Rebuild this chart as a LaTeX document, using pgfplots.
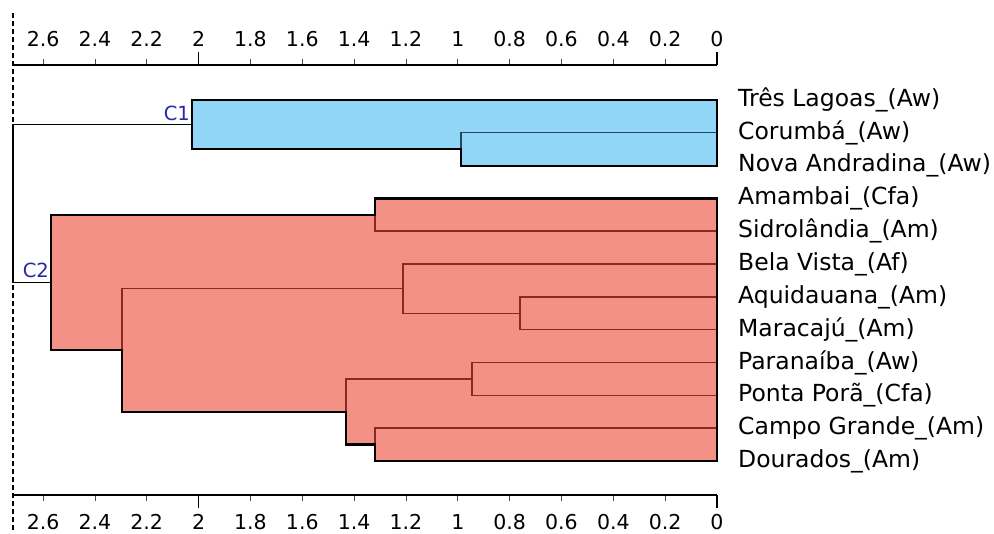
\documentclass[border=0pt]{standalone}
\usepackage{fontspec}
\setmainfont{DejaVu Sans}
\usepackage{pgfplots}
\pgfplotsset{compat=1.18}
\definecolor{bluefill}{RGB}{146,214,247}
\definecolor{redfill}{RGB}{243,145,134}
\definecolor{redline}{RGB}{140,40,30}
\definecolor{blueline}{RGB}{40,70,90}
\definecolor{clabel}{RGB}{40,40,170}
\pgfplotsset{
  dendro/.style={
    scale only axis, width=704pt, height=430pt,
    xmin=0, xmax=2.716, x dir=reverse,
    ymin=-1.067, ymax=12.04, y dir=reverse,
    separate axis lines,
    y axis line style={draw=none},
    x axis line style={line width=1.4pt, black},
    xtick={0,0.2,0.4,0.6,0.8,1,1.2,1.4,1.6,1.8,2,2.2,2.4,2.6},
    tick align=outside,
    major tick length=6pt,
    x tick style={line width=0.8pt, black!70},
    extra x ticks={0,2},
    extra x tick labels={},
    extra x tick style={major tick length=13pt, x tick style={line width=1.4pt, black}},
    /pgf/number format/assume math mode=true,
    clip=false,
  }
}
\begin{document}
\begin{tikzpicture}
\begin{axis}[dendro, name=main,
  xtick pos=bottom, xticklabel pos=bottom,
  xticklabel style={font=\fontsize{20.5}{22}\selectfont, yshift=-10pt},
  ytick={0,1,2,3,4,5,6,7,8,9,10,11},
  yticklabels={Três Lagoas\_(Aw),Corumbá\_(Aw),Nova Andradina\_(Aw),Amambai\_(Cfa),Sidrolândia\_(Am),Bela Vista\_(Af),Aquidauana\_(Am),Maracajú\_(Am),Paranaíba\_(Aw),Ponta Porã\_(Cfa),Campo Grande\_(Am),Dourados\_(Am)},
  yticklabel pos=right,
  y tick style={draw=none},
  yticklabel style={anchor=west, inner sep=0pt, xshift=15pt, font=\fontsize{23.5}{25}\selectfont},
]
% dashed left line (root level)
\addplot[black, line width=1.2pt, dash pattern=on 5pt off 3pt] coordinates {(2.716,-2.65) (2.716,13.2)};
% fills
\addplot[fill=bluefill, draw=none] coordinates {(2.025,0) (0,0) (0,2) (0.988,2) (0.988,1.5) (2.025,1.5)} -- cycle;
\addplot[fill=redfill, draw=none] coordinates {(1.319,3) (0,3) (0,11) (1.319,11) (1.319,10.5) (1.431,10.5) (1.431,9.5) (2.296,9.5) (2.296,7.625) (2.569,7.625) (2.569,3.5) (1.319,3.5)} -- cycle;
% interior links
\addplot[blueline, line width=1.3pt] coordinates {(0,1) (0.988,1) (0.988,2) (0,2)};
\addplot[blueline, line width=1.3pt] coordinates {(0,0) (2.025,0) (2.025,1.5) (0.988,1.5)};
\addplot[redline, line width=1.5pt] coordinates {(0,3) (1.319,3) (1.319,4) (0,4)};
\addplot[redline, line width=1.5pt] coordinates {(0,6) (0.760,6) (0.760,7) (0,7)};
\addplot[redline, line width=1.5pt] coordinates {(0,5) (1.211,5) (1.211,6.5) (0.760,6.5)};
\addplot[redline, line width=1.5pt] coordinates {(0,8) (0.945,8) (0.945,9) (0,9)};
\addplot[redline, line width=1.5pt] coordinates {(0,10) (1.319,10) (1.319,11) (0,11)};
\addplot[redline, line width=1.5pt] coordinates {(0.945,8.5) (1.431,8.5) (1.431,10.5) (1.319,10.5)};
\addplot[redline, line width=1.5pt] coordinates {(1.211,5.75) (2.296,5.75) (2.296,9.5) (1.431,9.5)};
\addplot[redline, line width=1.5pt] coordinates {(1.319,3.5) (2.569,3.5) (2.569,7.625) (2.296,7.625)};
% root link
\addplot[black, line width=1.5pt] coordinates {(2.025,0.75) (2.716,0.75) (2.716,5.5625) (2.569,5.5625)};
% outlines
\addplot[black, line width=2.2pt] coordinates {(2.025,0) (0,0) (0,2) (0.988,2) (0.988,1.5) (2.025,1.5)} -- cycle;
\addplot[black, line width=2.2pt] coordinates {(1.319,3) (0,3) (0,11) (1.319,11) (1.319,10.5) (1.431,10.5) (1.431,9.5) (2.296,9.5) (2.296,7.625) (2.569,7.625) (2.569,3.5) (1.319,3.5)} -- cycle;
\node[anchor=east, text=clabel, inner sep=2pt, font=\fontsize{19.5}{21}\selectfont] at (axis cs:2.025,0.40) {C1};
\node[anchor=east, text=clabel, inner sep=2pt, font=\fontsize{19.5}{21}\selectfont] at (axis cs:2.569,5.18) {C2};
\end{axis}
\begin{axis}[dendro, at={(main.south west)}, anchor=south west,
  xtick pos=top, xticklabel pos=top,
  xticklabel style={font=\fontsize{20.5}{22}\selectfont, yshift=9pt},
  ytick=\empty]
\end{axis}
\pgfresetboundingbox
\path[use as bounding box] ([xshift=-13pt,yshift=-38pt]main.south west) rectangle ([xshift=277pt,yshift=65pt]main.north east);
\end{tikzpicture}
\end{document}
